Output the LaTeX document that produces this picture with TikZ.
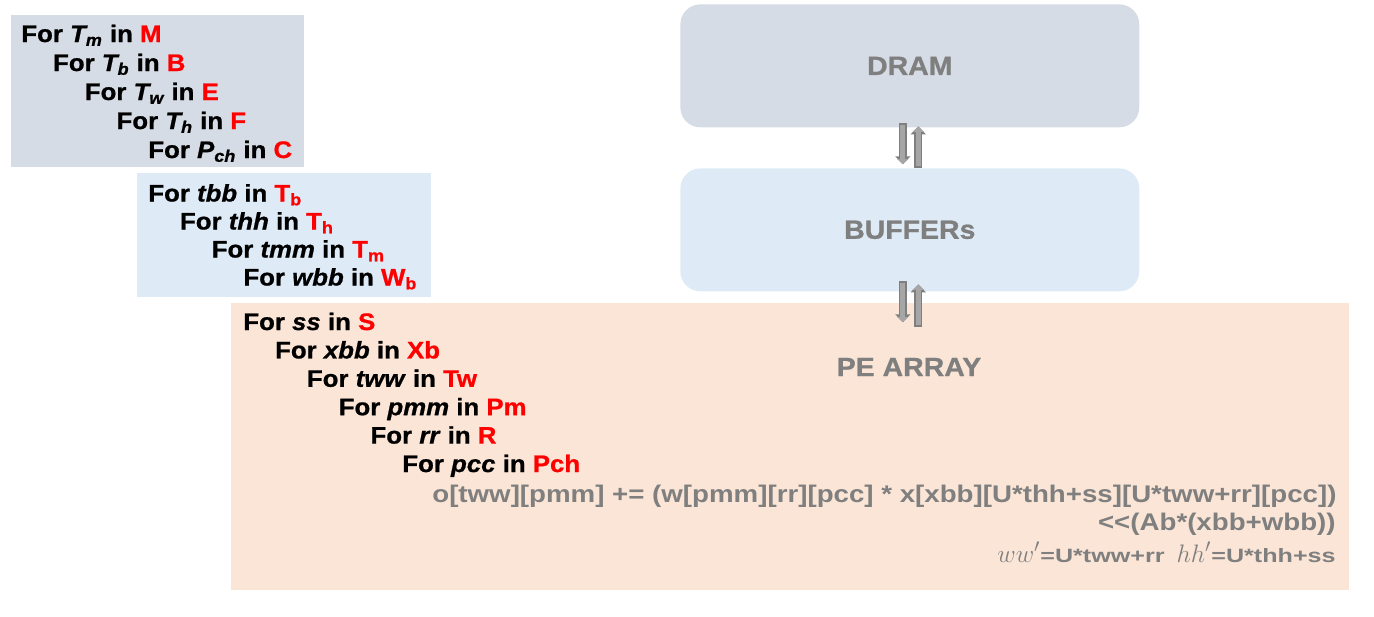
\documentclass[tikz,border=0pt]{standalone}
\usepackage{fontspec}
\setmainfont{Liberation Sans}[FakeStretch=1.08, BoldFeatures={FakeBold=0.8}, BoldItalicFeatures={FakeBold=0.8}]
\newfontfamily\codefont{Liberation Sans}[FakeStretch=1.15]
\newfontfamily\widefont{Liberation Sans}[FakeStretch=1.3]
\usetikzlibrary{arrows.meta,positioning}
\definecolor{dramgray}{HTML}{D6DCE5}
\definecolor{bufblue}{HTML}{DEEBF7}
\definecolor{pepeach}{HTML}{FBE5D6}
\definecolor{txtgray}{HTML}{7F7F7F}
\definecolor{arrfill}{HTML}{A6A6A6}
\definecolor{arredge}{HTML}{7F7F7F}
\definecolor{loopred}{HTML}{FF0000}
\newcommand\rd[1]{\textcolor{loopred}{#1}}
\tikzset{
    loopbox/.style={
        anchor=north west, inner sep=0pt
    },
    block/.style={
        anchor=north west, rounded corners=0.4cm,
        minimum width=9.18cm, minimum height=2.46cm,
        text=txtgray, font=\fontsize{15}{17}\selectfont\bfseries
    },
    loopline/.style={
        anchor=base west, inner sep=0pt,
        font=\fontsize{13.6}{16}\selectfont\bfseries
    },
    code/.style={
        inner sep=0pt, text=txtgray,
        font=\codefont\fontsize{13.7}{16}\selectfont\bfseries
    },
    xfer/.style={
        draw=arrfill, line width=0.1cm, shorten >=0.035cm,
        -{Triangle[width=0.23cm,length=0.11cm]},
        preaction={draw=arredge, line width=0.16cm, shorten <=-0.03cm,
            -{Triangle[width=0.3cm,length=0.16cm]}}
    }
}

\begin{document}
\begin{tikzpicture}[x=0.02cm, y=-0.02cm]
\useasboundingbox (0,0) rectangle (1374,616);

% Loop boxes
\node[loopbox, fill=dramgray, minimum width=5.86cm, minimum height=3.04cm] (outer) at (11,15) {};
\node[loopbox, fill=bufblue, minimum width=5.88cm, minimum height=2.48cm] (middle) at (137,173) {};
\node[loopbox, fill=pepeach, minimum width=22.36cm, minimum height=5.74cm] (pe) at (231,303) {};

% Memory blocks
\node[block, fill=dramgray] (dram) at (680,4) {DRAM};
\node[block, fill=bufblue] (buf) at (680,168) {BUFFERs};
\node[text=txtgray, font=\fontsize{15}{17}\selectfont\bfseries] (pelabel) at (909,367) {PE ARRAY};

% Outer loops
\foreach \txt [count=\i from 0] in {
    {For \textit{T\textsubscript{m}} in \rd{M}},
    {For \textit{T\textsubscript{b}} in \rd{B}},
    {For \textit{T\textsubscript{w}} in \rd{E}},
    {For \textit{T\textsubscript{h}} in \rd{F}},
    {For \textit{P\textsubscript{ch}} in \rd{C}}}
  \node[loopline] (la\i) at (21+31.75*\i, 42+29*\i) {\txt};

% Buffer loops
\foreach \txt [count=\i from 0] in {
    {For \textit{tbb} in \rd{T\textsubscript{b}}},
    {For \textit{thh} in \rd{T\textsubscript{h}}},
    {For \textit{tmm} in \rd{T\textsubscript{m}}},
    {For \textit{wbb} in \rd{W\textsubscript{b}}}}
  \node[loopline] (lb\i) at (148+31.7*\i, 201.5+28*\i) {\txt};

% PE loops
\foreach \txt [count=\i from 0] in {
    {For \textit{ss} in \rd{S}},
    {For \textit{xbb} in \rd{Xb}},
    {For \textit{tww} in \rd{Tw}},
    {For \textit{pmm} in \rd{Pm}},
    {For \textit{rr} in \rd{R}},
    {For \textit{pcc} in \rd{Pch}}}
  \node[loopline] (lc\i) at (243+31.8*\i, 330+28.4*\i) {\txt};

% Computation
\node[code, anchor=base west] (f1) at (432,502)
    {o[tww][pmm] += (w[pmm][rr][pcc] * x[xbb][U*thh+ss][U*tww+rr][pcc])};
\node[code, anchor=base east] (f2) at (1336,530) {<{}<(Ab*(xbb+wbb))};
\node[code, anchor=base east] (f3) at (1336,562)
    {{\fontsize{15.5}{16}\selectfont$ww'$}{\widefont\fontsize{11}{12}\selectfont\bfseries =U*tww+rr}\enspace
     {\fontsize{15.5}{16}\selectfont$hh'$}{\widefont\fontsize{11}{12}\selectfont\bfseries =U*thh+ss}};

% Transfers
\coordinate (peIn) at (buf.south |- pe.north);
\draw[xfer] ([xshift=-0.14cm, yshift=0.06cm]dram.south) -- ([xshift=-0.14cm, yshift=0.04cm]buf.north);
\draw[xfer] ([xshift=0.17cm, yshift=0.04cm]buf.north) -- ([xshift=0.17cm, yshift=0.06cm]dram.south);
\draw[xfer] ([xshift=-0.14cm, yshift=0.18cm]buf.south) -- ([xshift=-0.14cm, yshift=-0.42cm]peIn);
\draw[xfer] ([xshift=0.17cm, yshift=-0.44cm]peIn) -- ([xshift=0.17cm, yshift=0.18cm]buf.south);

\end{tikzpicture}
\end{document}
